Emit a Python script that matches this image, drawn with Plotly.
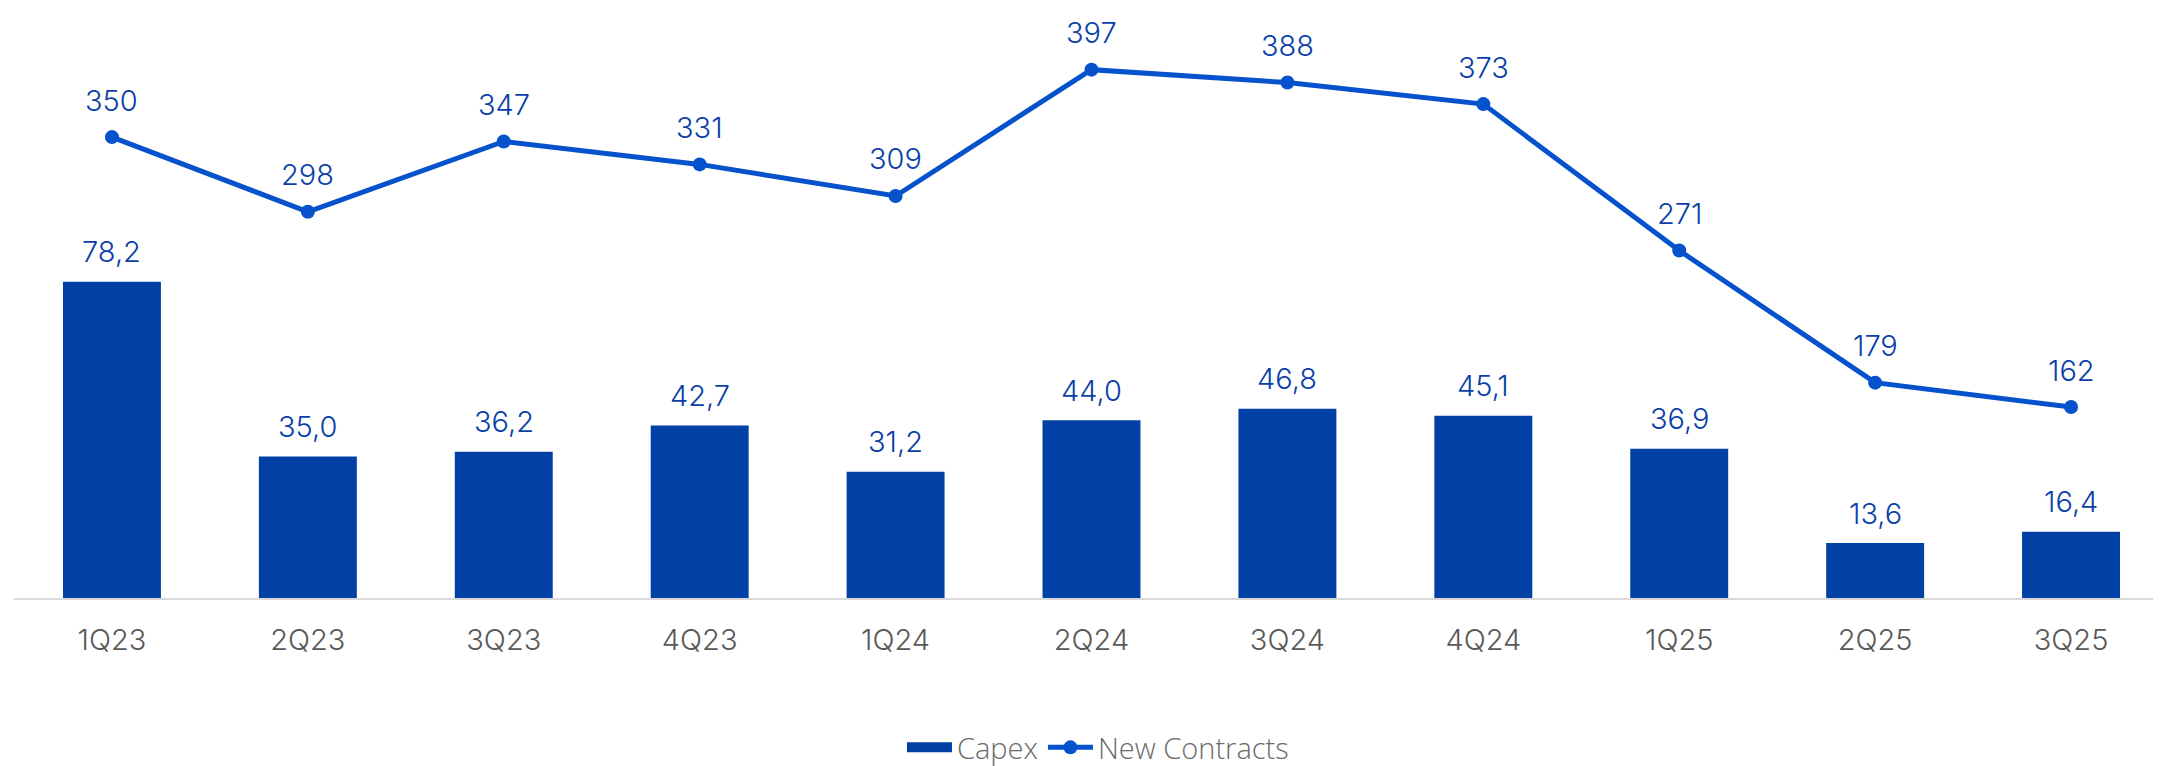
import plotly.graph_objects as go

quarters = ["1Q23", "2Q23", "3Q23", "4Q23", "1Q24", "2Q24", "3Q24", "4Q24", "1Q25", "2Q25", "3Q25"]
capex = [78.2, 35.0, 36.2, 42.7, 31.2, 44.0, 46.8, 45.1, 36.9, 13.6, 16.4]
new_contracts = [350, 298, 347, 331, 309, 397, 388, 373, 271, 179, 162]

BAR_COLOR = "#0141A5"
LINE_COLOR = "#0652CC"
LABEL_COLOR = "#0A3FA8"
FONT = "Inter"
LABEL_FONT = dict(family=FONT, size=29, color=LABEL_COLOR, weight=350)

fig = go.Figure()
fig.add_trace(go.Bar(
    x=quarters, y=capex, name="Capex",
    marker=dict(color=BAR_COLOR, line=dict(width=0)),
    width=0.5, showlegend=False,
))
# legend entry drawn as a wide rectangle like the original
fig.add_trace(go.Scatter(
    x=[None], y=[None], name="Capex", mode="lines",
    line=dict(color=BAR_COLOR, width=18), hoverinfo="skip",
))
fig.add_trace(go.Scatter(
    x=quarters, y=new_contracts, name="New Contracts", yaxis="y2",
    mode="lines+markers",
    line=dict(color=LINE_COLOR, width=5),
    marker=dict(color=LINE_COLOR, size=14),
    cliponaxis=False,
))

annotations = []
for q, v in zip(quarters, capex):
    annotations.append(dict(
        x=q, y=v, xref="x", yref="y", text=f"{v:.1f}".replace(".", ","),
        showarrow=False, yanchor="middle", yshift=30, font=LABEL_FONT,
    ))
for q, v in zip(quarters, new_contracts):
    annotations.append(dict(
        x=q, y=v, xref="x", yref="y2", text=f"{v:d}",
        showarrow=False, yanchor="middle", yshift=37, font=LABEL_FONT,
    ))

fig.update_layout(
    width=2161, height=766,
    margin=dict(l=6, r=0, t=20, b=176, autoexpand=False),
    paper_bgcolor="white", plot_bgcolor="white",
    showlegend=True,
    legend=dict(orientation="h", x=0.503, xanchor="center", y=-0.307, yanchor="bottom",
                font=dict(family="Open Sans", size=29, color="#6b6b6b", weight=300),
                itemwidth=45, traceorder="normal"),
    xaxis=dict(showgrid=False, showline=True, linecolor="#d9d9d9", linewidth=2,
               ticks="outside", ticklen=15, tickcolor="rgba(0,0,0,0)",
               tickfont=dict(family=FONT, size=29, color="#595959", weight=350),
               range=[-0.5, 10.5]),
    yaxis=dict(range=[0, 141], visible=False, showgrid=False, zeroline=False),
    yaxis2=dict(range=[29, 426], overlaying="y", visible=False, showgrid=False, zeroline=False),
    annotations=annotations,
)

fig.write_html("out.html")
